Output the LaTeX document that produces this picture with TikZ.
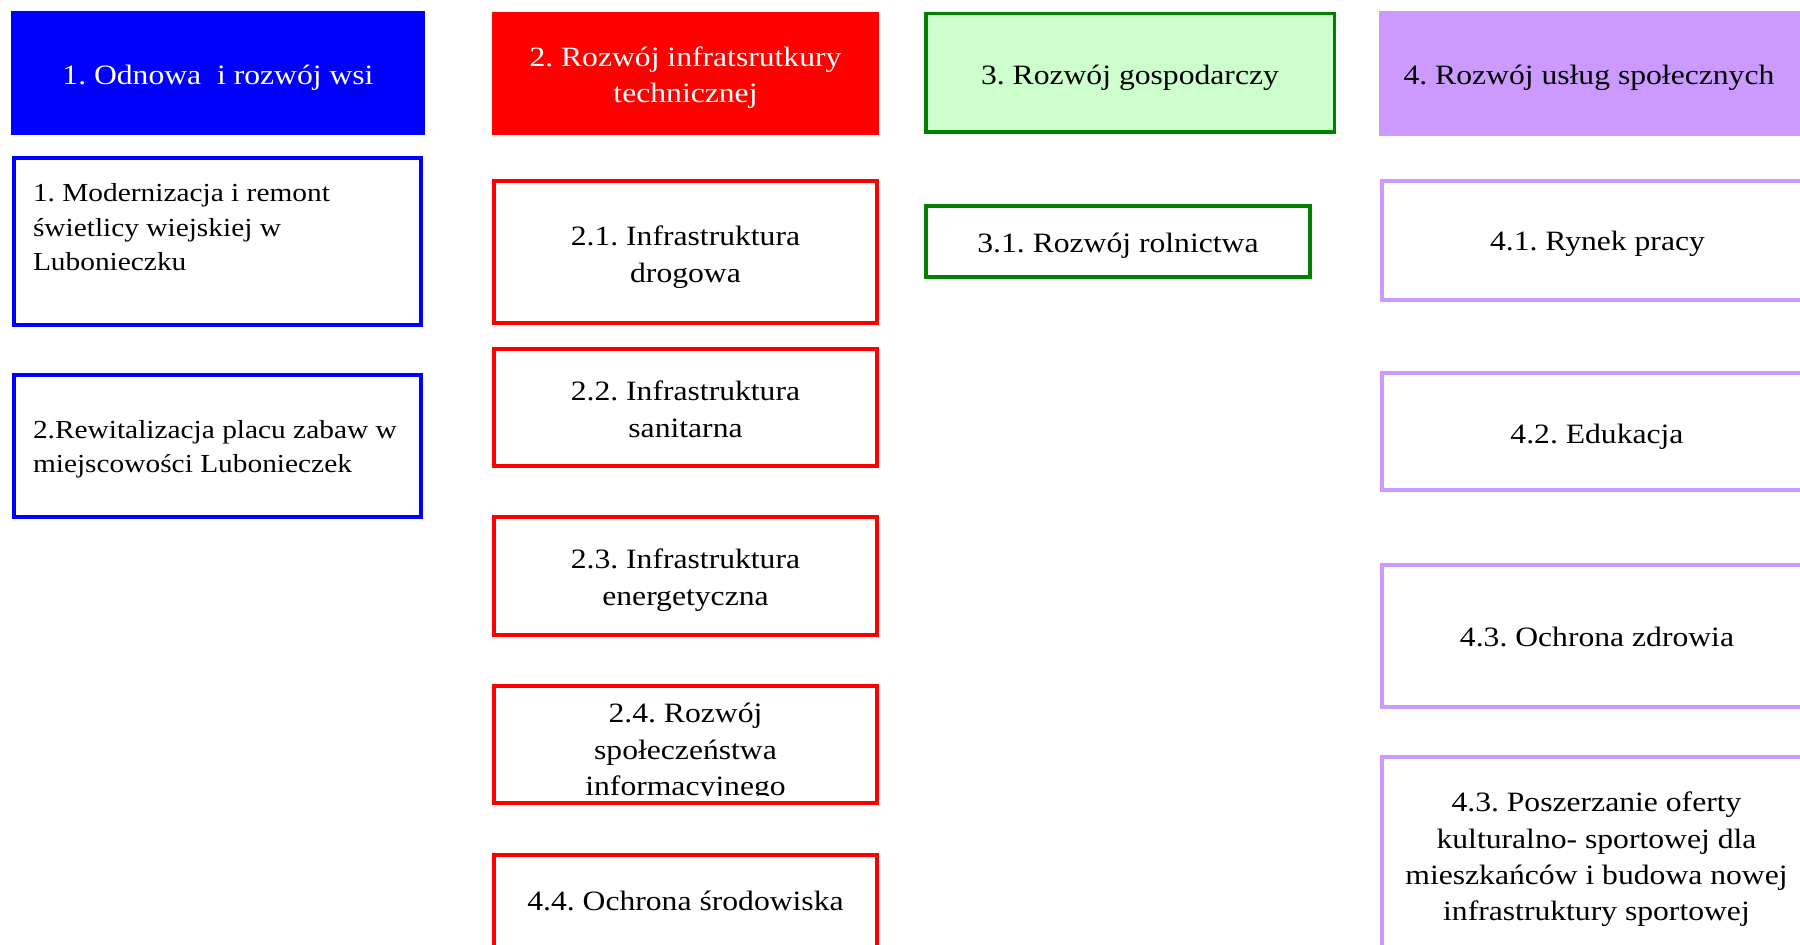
\documentclass[tikz,border=0pt]{standalone}
\usepackage{fontspec}
\setmainfont{Liberation Serif}[FakeStretch=1.13]
\frenchspacing
\definecolor{hblue}{HTML}{0000FF}
\definecolor{hred}{HTML}{FF0000}
\definecolor{lgreen}{HTML}{CCFFCC}
\definecolor{dgreen}{HTML}{008000}
\definecolor{lpurple}{HTML}{CC99FF}
\tikzset{
  hdr/.style={inner sep=0pt, outer sep=0pt, anchor=north west},
  boxnode/.style={draw=#1, line width=2pt, fill=white, inner sep=0pt, outer sep=0pt, anchor=north west},
  bigtxt/.style={inner sep=0pt, outer sep=0pt, anchor=base, align=center, font=\fontsize{14pt}{18.2pt}\selectfont\frenchspacing},
  smalltxt/.style={inner sep=0pt, outer sep=0pt, anchor=base west, align=left, font=\fontsize{13pt}{17.25pt}\selectfont\frenchspacing},
}
\begin{document}
\begin{tikzpicture}[x=0.5pt,y=-0.5pt]
\useasboundingbox (0,0) rectangle (1800,945);
% headers
\node[hdr, fill=hblue, minimum width=207pt, minimum height=62pt] (h1) at (11,11) {};
\node[hdr, fill=hred, minimum width=193.5pt, minimum height=61.5pt] (h2) at (492,12) {};
\node[hdr, fill=lgreen, draw=dgreen, line width=1.75pt, minimum width=204.25pt, minimum height=59.25pt] (h3) at (925.75,13.75) {};
\node[hdr, fill=lpurple, minimum width=210.5pt, minimum height=62.5pt] (h4) at (1379,11) {};
% multi-line text nodes are placed by the baseline of their last line
\node[bigtxt, text=white] (t1) at (218,85) {1. Odnowa\ \ i rozwój wsi};
\node[bigtxt, text=white] (t2) at (685.5,103) {2. Rozwój infratsrutkury\\technicznej};
\node[bigtxt] (t3) at (1130,85) {3. Rozwój gospodarczy};
\node[bigtxt] (t4) at (1589,85) {4. Rozwój usług społecznych};
% column 1
\node[boxnode=hblue, minimum width=203.5pt, minimum height=83.5pt] (b11) at (14,158) {};
\node[boxnode=hblue, minimum width=203.5pt, minimum height=71pt] (b12) at (14,375) {};
\node[smalltxt] (tb11) at (33,271) {1. Modernizacja i remont\\świetlicy wiejskiej w\\Lubonieczku};
\node[smalltxt] (tb12) at (33,473) {2.Rewitalizacja placu zabaw w\\miejscowości Lubonieczek};
% column 2
\node[boxnode=hred, minimum width=191.5pt, minimum height=71pt] (b21) at (494,181) {};
\node[boxnode=hred, minimum width=191.5pt, minimum height=58.5pt] (b22) at (494,349) {};
\node[boxnode=hred, minimum width=191.5pt, minimum height=59pt] (b23) at (494,517) {};
\node[boxnode=hred, minimum width=191.5pt, minimum height=58.5pt] (b24) at (494,686) {};
\node[boxnode=hred, minimum width=191.5pt, minimum height=65pt] (b44) at (494,855) {};
\node[bigtxt] (tb21) at (685.5,282.4) {2.1. Infrastruktura\\drogowa};
\node[bigtxt] (tb22) at (685.5,437.4) {2.2. Infrastruktura\\sanitarna};
\node[bigtxt] (tb23) at (685.5,605.4) {2.3. Infrastruktura\\energetyczna};
\begin{scope}
\clip (496,688) rectangle (877,796);
\node[bigtxt] (tb24) at (685.5,795.8) {2.4. Rozwój\\społeczeństwa\\informacyjnego};
\end{scope}
\node[bigtxt] (tb44) at (685.5,911) {4.4. Ochrona środowiska};
% column 3
\node[boxnode=dgreen, minimum width=192pt, minimum height=35.5pt] (b31) at (926,206) {};
\node[bigtxt] (tb31) at (1118,253) {3.1. Rozwój rolnictwa};
% column 4
\node[boxnode=lpurple, minimum width=215pt, minimum height=59.5pt] (b41) at (1382,181) {};
\node[boxnode=lpurple, minimum width=215pt, minimum height=58.5pt] (b42) at (1382,373) {};
\node[boxnode=lpurple, minimum width=215pt, minimum height=71pt] (b43) at (1382,565) {};
\node[boxnode=lpurple, minimum width=215pt, minimum height=115.5pt] (b45) at (1382,757) {};
\node[bigtxt] (tb41) at (1597.5,251) {4.1. Rynek pracy};
\node[bigtxt] (tb42) at (1597,444) {4.2. Edukacja};
\node[bigtxt] (tb43) at (1597,647) {4.3. Ochrona zdrowia};
\node[bigtxt] (tb45) at (1596.5,921) {4.3. Poszerzanie oferty\\kulturalno- sportowej dla\\mieszkańców i budowa nowej\\infrastruktury sportowej};
\end{tikzpicture}
\end{document}
